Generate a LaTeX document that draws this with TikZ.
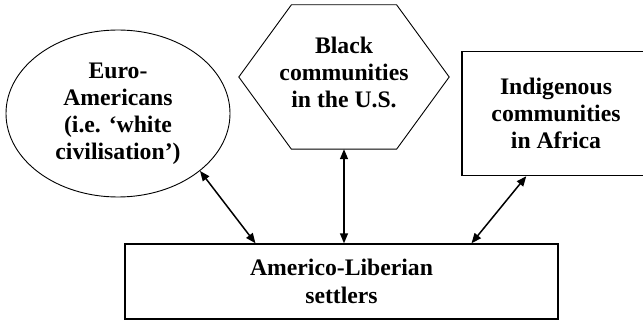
\documentclass[tikz,border=0pt]{standalone}
\usepackage{fontspec}
\setmainfont{Liberation Serif}
\usetikzlibrary{shapes.geometric,arrows.meta,calc}
\begin{document}
\begin{tikzpicture}[x=1pt,y=-1pt,
  lbl/.style={font=\fontsize{23.7}{27}\selectfont\bfseries, align=center, inner sep=0pt},
  conn/.style={{Triangle[length=10pt,width=8pt]}-{Triangle[length=10pt,width=8pt]}, line width=1.5pt},
  thinline/.style={draw, line width=0.9pt},
  boxline/.style={draw, line width=1.4pt}]
\fill[white] (0,0) rectangle (643,320);
\useasboundingbox (0,0) rectangle (643,320);
% Euro-Americans ellipse
\node[lbl, ellipse, thinline, minimum width=224pt, minimum height=167pt] (euro) at (118,113.5)
  {Euro-\\Americans\hspace*{0.6em}\\(i.e. ‘white\\civilisation’)};
% Hexagon frame
\node[minimum width=210pt, minimum height=144pt, inner sep=0pt] (hex) at (344,77) {};
\draw[line width=0.9pt] (hex.west)
  -- ($(hex.north west)!0.25!(hex.north east)$)
  -- ($(hex.north west)!0.75!(hex.north east)$)
  -- (hex.east)
  -- ($(hex.south west)!0.75!(hex.south east)$)
  -- ($(hex.south west)!0.25!(hex.south east)$)
  -- cycle;
\node[lbl] (hextxt) at ([yshift=5pt]hex.center) {Black\\communities\\in the U.S.};
% Indigenous box
\node[lbl, boxline, minimum width=188pt, minimum height=124pt] (indig) at (556,113.5)
  {Indigenous\\communities\\in Africa};
% Settlers box
\node[lbl, boxline, font=\fontsize{23.7}{28}\selectfont\bfseries, minimum width=433pt, minimum height=75pt] (settlers) at (341.5,281.5)
  {Americo-Liberian\\settlers};
% Connectors
\draw[conn] (euro.-35) -- ([xshift=-86pt]settlers.north);
\draw[conn] (hex.south) -- (settlers.north -| hex.south);
\draw[conn] ([xshift=65pt]indig.south west) -- ([xshift=130pt]settlers.north);
\end{tikzpicture}
\end{document}
